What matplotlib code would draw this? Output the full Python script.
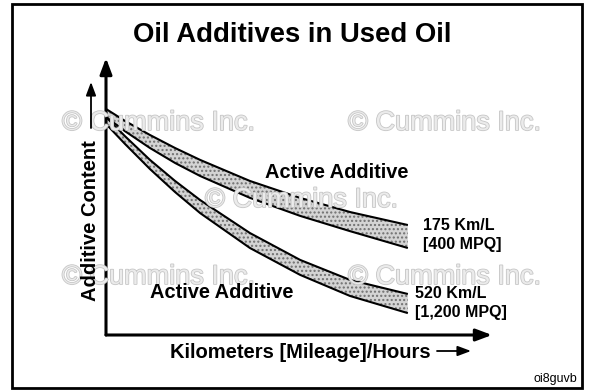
import numpy as np
import matplotlib
matplotlib.use('Agg')
import matplotlib.pyplot as plt
import matplotlib.patheffects as pe
from matplotlib.patches import Rectangle

plt.rcParams['font.family'] = ['Liberation Sans', 'DejaVu Sans']
plt.rcParams['hatch.linewidth'] = 1.0

W, H = 591, 391

# distance travelled (0-100 along the x axis) and additive content (0-100)
distance = [0, 4.9, 11.4, 17.9, 24.4, 37.3, 50.3, 63.2, 78.2]
low_rate_top = [81.6, 77.3, 72.2, 67.5, 63.2, 55.6, 49.5, 44.4, 39.7]
low_rate_bottom = [78.7, 73.6, 67.5, 62.1, 57.4, 49.5, 43.0, 37.5, 31.4]
high_rate_top = [78.7, 71.8, 63.2, 55.6, 48.7, 36.8, 27.1, 19.9, 14.8]
high_rate_bottom = [76.2, 69.0, 59.9, 51.6, 44.0, 31.4, 21.7, 14.1, 7.9]
band_labels = [("175 Km/L", "[400 MPQ]"), ("520 Km/L", "[1,200 MPQ]")]
watermark = "\u00a9 Cummins Inc."


def fpos(x, y):
    # pixel position -> figure fraction
    return x / W, 1 - y / H


def main():
    fig = plt.figure(figsize=(W / 100, H / 100), dpi=100)
    fig.patch.set_facecolor('white')

    # outer frame
    fig.add_artist(Rectangle(fpos(12, 388), 570 / W, 384 / H, transform=fig.transFigure,
                             fill=False, lw=2, ec='black'))

    # watermarks
    for x, y in [(62, 123), (348, 123), (205, 200), (62, 277), (348, 277)]:
        fig.text(*fpos(x, y), watermark, fontsize=19.5, color='#ebebeb', va='center', ha='left',
                 zorder=0, path_effects=[pe.withStroke(linewidth=1.2, foreground='#c6c6c6')])

    ax = fig.add_axes([106 / W, (H - 335) / H, (492 - 106) / W, (335 - 58) / H])
    ax.set_xlim(0, 100)
    ax.set_ylim(0, 100)
    ax.axis('off')
    ax.patch.set_alpha(0)

    x = np.array(distance)
    for top, bot in [(low_rate_top, low_rate_bottom), (high_rate_top, high_rate_bottom)]:
        ax.fill(np.r_[x, x[::-1]], np.r_[top, bot[::-1]], facecolor='#d4d4d4',
                edgecolor='#707070', linewidth=0, hatch='....', zorder=2)
        ax.plot(x, top, color='black', lw=1.5, zorder=3, solid_capstyle='butt')
        ax.plot(x, bot, color='black', lw=1.5, zorder=3, solid_capstyle='butt')

    arrow = dict(arrowstyle='-|>,head_length=0.8,head_width=0.3', lw=2.2, color='black',
                 mutation_scale=12, shrinkA=0, shrinkB=0)
    ax.annotate('', xy=(0, 1), xytext=(0, 0), xycoords='axes fraction', arrowprops=arrow)
    ax.annotate('', xy=(1, 0), xytext=(0, 0), xycoords='axes fraction', arrowprops=arrow)

    small = dict(arrowstyle='-|>,head_length=0.8,head_width=0.3', lw=1.3, color='black',
                 mutation_scale=10, shrinkA=0, shrinkB=0)
    fig.add_artist(plt.Annotation('', xy=fpos(91, 82), xytext=fpos(91, 128),
                                  xycoords='figure fraction', arrowprops=small))
    fig.add_artist(plt.Annotation('', xy=fpos(471, 351), xytext=fpos(437, 351),
                                  xycoords='figure fraction', arrowprops=small))

    fig.text(*fpos(292, 35), "Oil Additives in Used Oil", fontsize=19.8, fontweight='bold',
             ha='center', va='center')
    fig.text(*fpos(91, 221), "Additive Content", fontsize=14.5, fontweight='bold',
             rotation=90, ha='center', va='center')
    fig.text(*fpos(170, 352), "Kilometers [Mileage]/Hours", fontsize=14.5, fontweight='bold',
             ha='left', va='center')
    fig.text(*fpos(337, 173), "Active Additive", fontsize=14.4, fontweight='bold',
             ha='center', va='center')
    fig.text(*fpos(222, 292), "Active Additive", fontsize=14.4, fontweight='bold',
             ha='center', va='center')

    for (l1, l2), (lx, ly) in zip(band_labels, [(423, 226), (415, 293)]):
        fig.text(*fpos(lx, ly), l1, fontsize=11.5, fontweight='bold', ha='left', va='center')
        fig.text(*fpos(lx, ly + 19), l2, fontsize=11.5, fontweight='bold', ha='left', va='center')

    fig.text(*fpos(577, 379), "oi8guvb", fontsize=9, ha='right', va='center')

    fig.savefig('out.png', dpi=100, facecolor='white')


if __name__ == "__main__":
    main()
